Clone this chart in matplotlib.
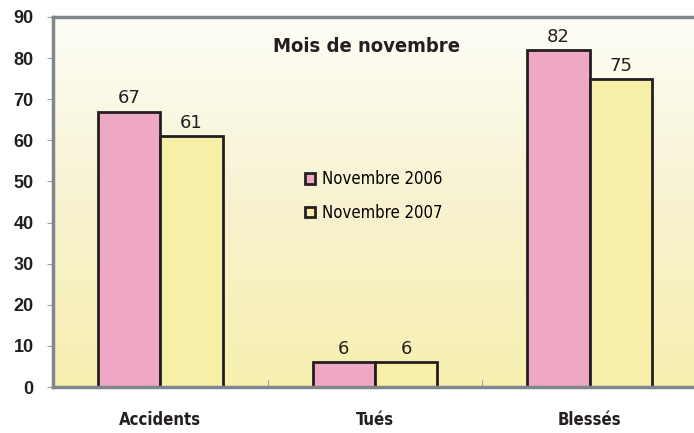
import matplotlib.pyplot as plt
import numpy as np
from matplotlib.colors import LinearSegmentedColormap

categories = ['Accidents', 'Tués', 'Blessés']
nov2006 = [67, 6, 82]
nov2007 = [61, 6, 75]
series_labels = ['Novembre 2006', 'Novembre 2007']
yticks = [0, 10, 20, 30, 40, 50, 60, 70, 80, 90]

narrow = ['Liberation Sans Narrow', 'DejaVu Sans']
plt.rcParams['font.family'] = ['Liberation Sans', 'DejaVu Sans']

fig = plt.figure(figsize=(6.94, 4.33), dpi=100)
ax = fig.add_axes([53 / 694, 1 - 387 / 433, 644 / 694, 370 / 433])

# fond dégradé (blanc en haut, jaune en bas)
cmap = LinearSegmentedColormap.from_list('bg', ['#f8f0b0', '#f7f2d0', '#fefef8'])
grad = np.linspace(0, 1, 256).reshape(-1, 1)
ax.imshow(grad, cmap=cmap, aspect='auto', origin='lower',
          extent=[0, 1, 0, 1], transform=ax.transAxes, zorder=0)

x = np.arange(len(categories))
w = 0.29
b1 = ax.bar(x - w / 2, nov2006, w, color='#eea8c4', edgecolor='#231f20',
            linewidth=2, label=series_labels[0], zorder=2)
b2 = ax.bar(x + w / 2, nov2007, w, color='#f8f0a8', edgecolor='#231f20',
            linewidth=2, label=series_labels[1], zorder=2)

for bars, vals in [(b1, nov2006), (b2, nov2007)]:
    for r, v in zip(bars, vals):
        ax.text(r.get_x() + r.get_width() / 2, v + 1.0, str(v),
                ha='center', va='bottom', fontsize=13, family='DejaVu Sans',
                color='#231f20', zorder=3)

ax.set_xlim(-0.5, 2.5)
ax.set_ylim(0, 90)
ax.set_yticks(yticks)
ax.set_yticklabels([str(t) for t in yticks], fontsize=13, fontweight='bold',
                   color='#231f20')
ax.set_xticks([-0.5, 0.5, 1.5, 2.5])
ax.set_xticklabels([])
ax.set_xticks(x, minor=True)
ax.set_xticklabels(categories, minor=True, fontsize=12, fontweight='bold',
                   family=narrow, stretch='condensed', color='#231f20')
ax.tick_params(axis='x', which='minor', length=0, pad=17)
ax.tick_params(axis='x', which='major', length=5, color='#a0a4a8', direction='in')
ax.tick_params(axis='y', length=4, color='#a0a4a8', pad=10)

for s in ['left', 'top', 'bottom']:
    ax.spines[s].set_color('#80868c')
    ax.spines[s].set_linewidth(2.5)
ax.spines['right'].set_visible(False)

ax.text(0.487, 0.92, 'Mois de novembre', transform=ax.transAxes, ha='center',
        va='center', fontsize=14.5, fontweight='bold', family=narrow,
        stretch='condensed', color='#231f20')

leg = ax.legend(loc='center left', bbox_to_anchor=(0.368, 0.516), frameon=False,
                handlelength=0.6, handleheight=0.6, handletextpad=0.4,
                labelspacing=0.95,
                prop={'family': narrow, 'size': 12, 'stretch': 'condensed'})
for h in leg.legend_handles:
    h.set_linewidth(2)

fig.savefig('out.png', dpi=100)
